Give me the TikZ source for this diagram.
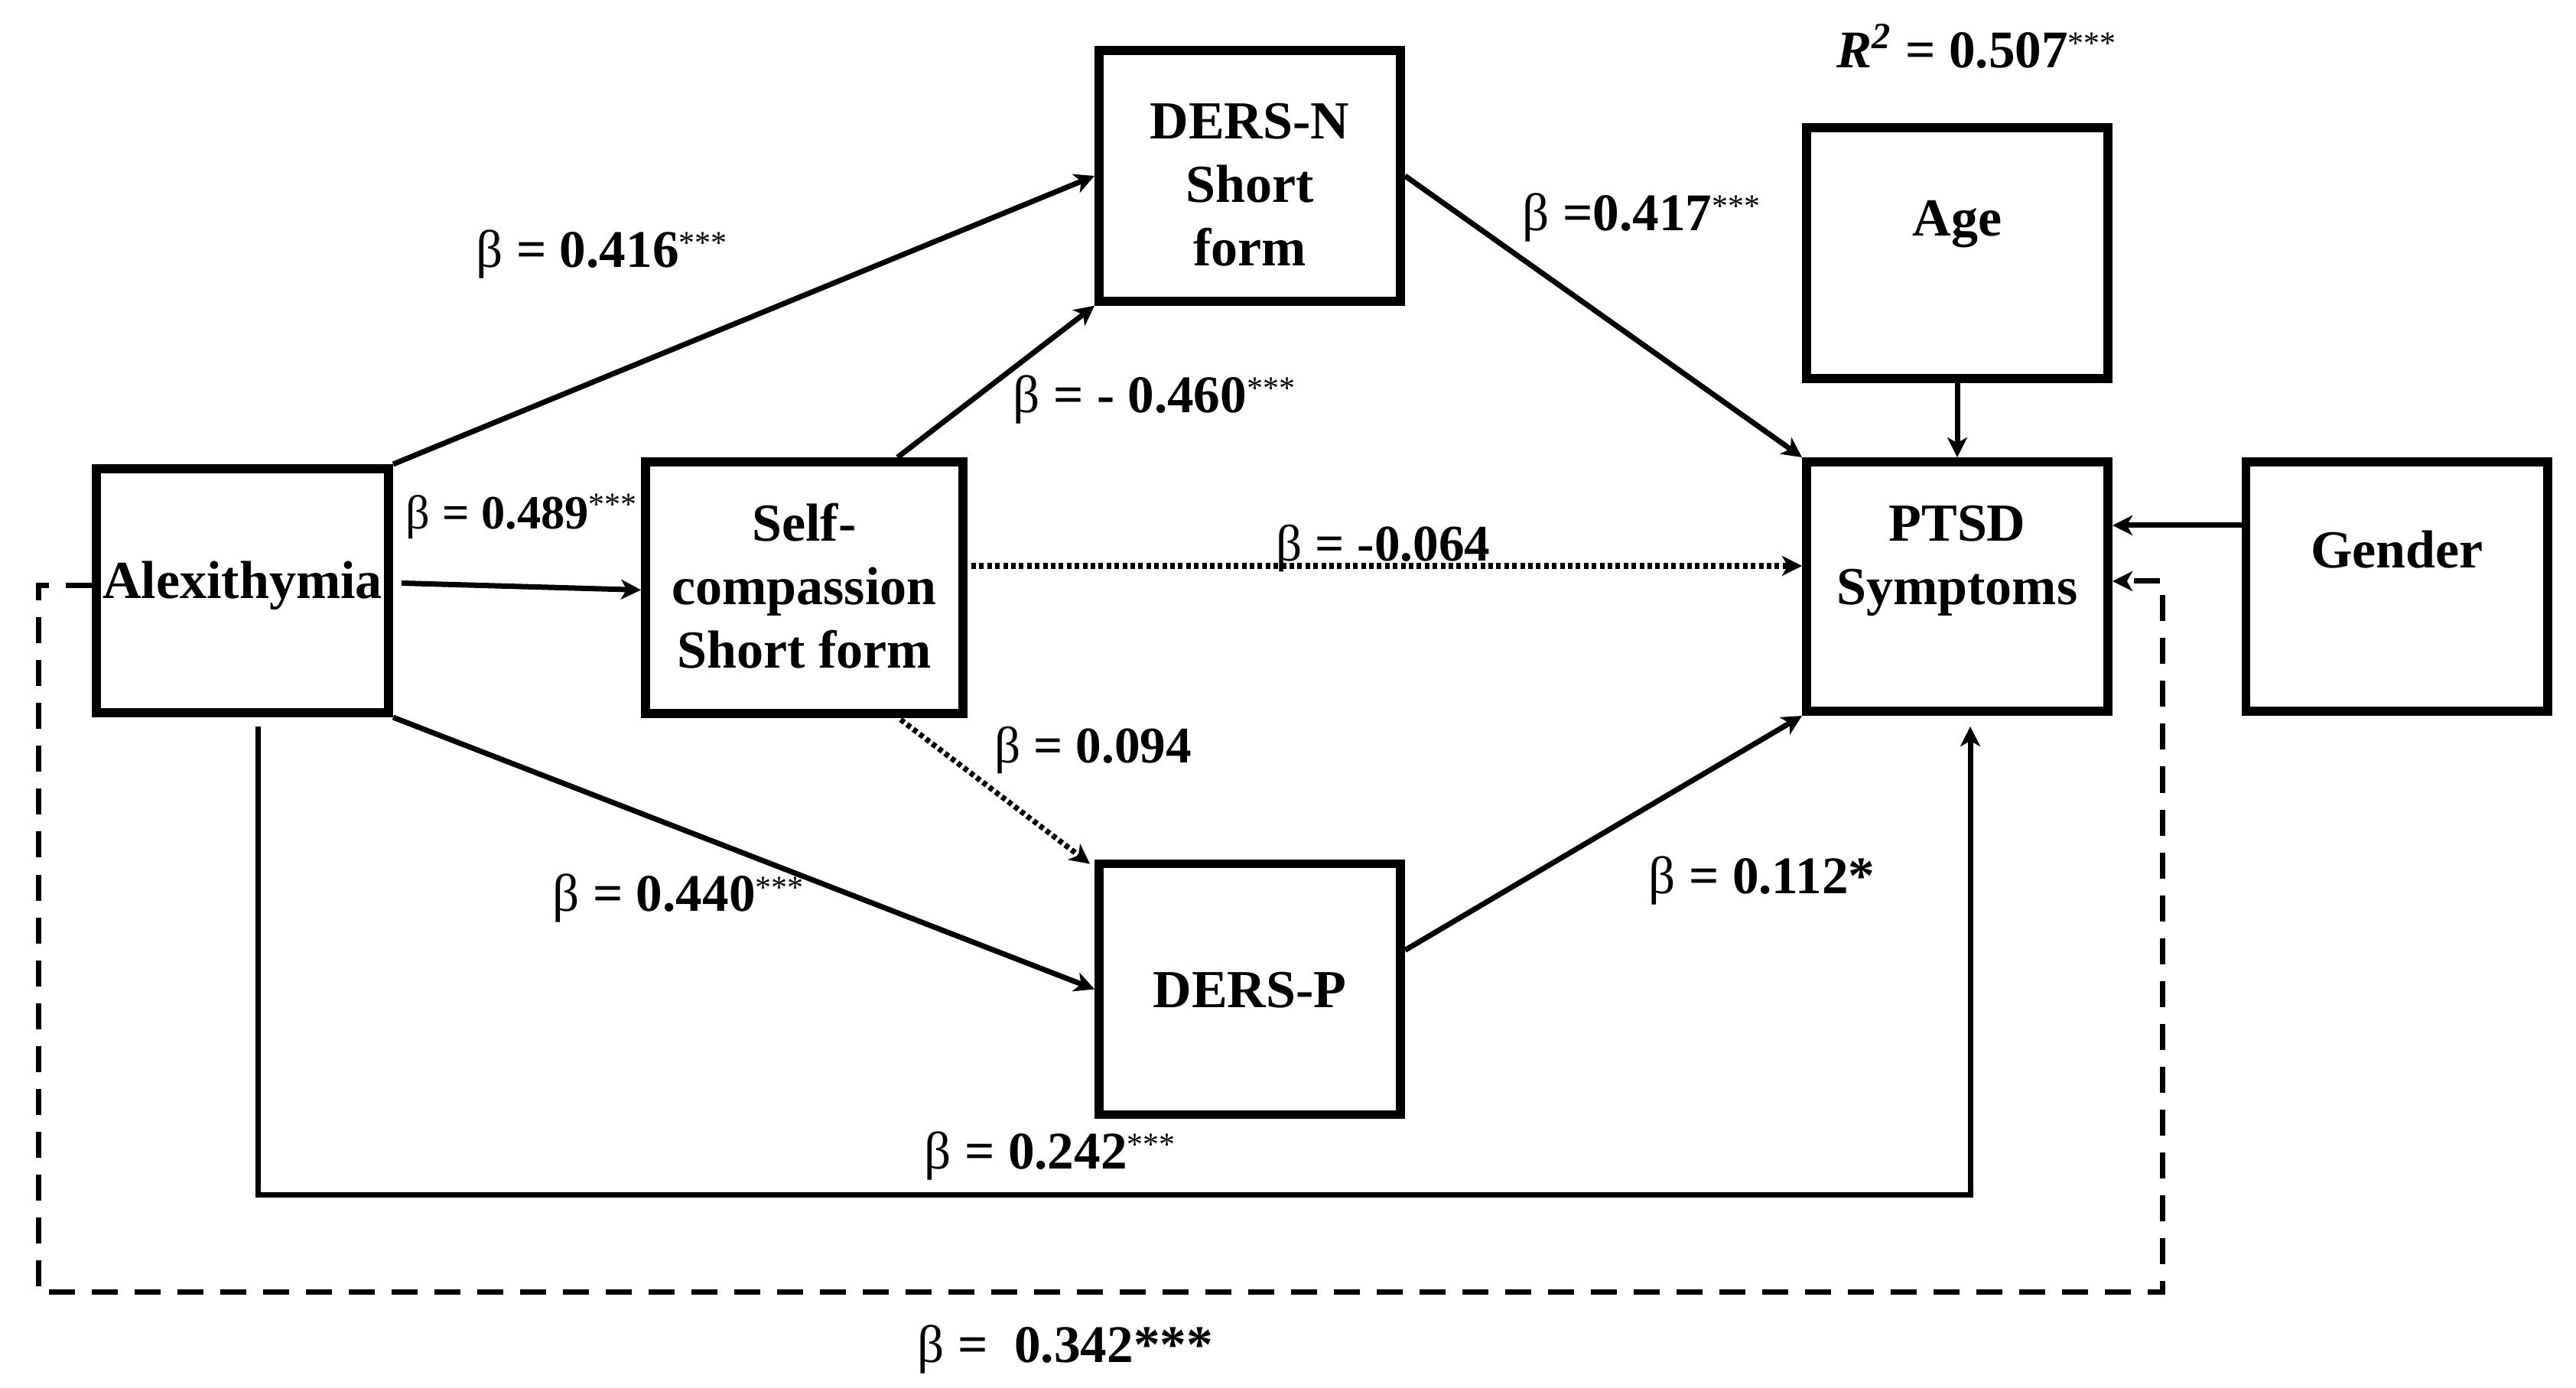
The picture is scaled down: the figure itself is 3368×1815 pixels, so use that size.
\documentclass[tikz,border=0pt]{standalone}
\usepackage{fontspec}
\setmainfont{Liberation Serif}
\usetikzlibrary{arrows.meta,calc}
\newcommand{\bet}{{\mdseries β}}
\newcommand{\sig}{\raisebox{4.5pt}{\mdseries\fontsize{10.5pt}{10.5pt}\selectfont ***}}
\begin{document}
\begin{tikzpicture}[x=0.25pt, y=-0.25pt,
  box/.style={draw, line width=2.9pt, inner sep=0pt, minimum width={394.4*0.25pt}, minimum height={328*0.25pt}},
  txt/.style={inner sep=0pt, font=\fontsize{17.5pt}{20.75pt}\selectfont\bfseries, align=center},
  lab/.style={inner sep=0pt, anchor=base west, font=\fontsize{17.3pt}{20.75pt}\selectfont\bfseries},
  arr/.style={line width=1.75pt, -{Stealth[length=6.5pt,width=6.5pt,inset=1.8pt]}},
  dotarr/.style={arr, line width=1.8pt, dash pattern=on 1.5pt off 1.1pt},
  dasharr/.style={arr, line width=1.75pt, dash pattern=on 8.5pt off 5.5pt},
]
\useasboundingbox (0,0) rectangle (3368,1815);

% boxes
\node[box, minimum width={382.4*0.25pt}, minimum height={319.4*0.25pt}] (alex) at (317,772.5) {};
\node[box, minimum width={415.4*0.25pt}, minimum height={329.4*0.25pt}] (self) at (1051.5,768.5) {};
\node[box] (dersn) at (1634,230) {};
\node[box] (dersp) at (1634,1293.5) {};
\node[box, minimum height={326.4*0.25pt}] (ptsd) at (2559,767) {};
\node[box] (age) at (2559,331) {};
\node[box, minimum height={326.4*0.25pt}] (gender) at (3133.5,767) {};

% box texts
\node[txt, anchor=base] (alexT) at (317,783) {Alexithymia};
\node[txt] (selfT) at (1051.5,766.5) {Self-\\compassion\\Short form};
\node[txt] (dersnT) at (1634,242) {DERS-N\\Short\\form};
\node[txt, anchor=base] (derspT) at (1634,1317) {DERS-P};
\node[txt] (ptsdT) at (2559,733.5) {PTSD\\Symptoms};
\node[txt, anchor=base] (ageT) at (2559,309) {Age};
\node[txt, anchor=base] (genderT) at (3134,743) {Gender};

% connectors
\draw[arr] (alex.north east) -- (dersn.west);
\draw[arr] ($(self.north)+(122,0)$) -- (dersn.south west);
\draw[arr] ($(alex.east)+(11,-10)$) -- ($(self.west)+(0,3)$);
\coordinate (s4) at ($(self.east)+(5,-28.5)$);
\draw[dotarr] (s4) -- (s4 -| ptsd.west);
\draw[dotarr] ($(self.south)+(126,2)$) -- ($(dersp.north west)+(-6,6)$);
\draw[arr] (alex.south east) -- (dersp.west);
\draw[arr] (dersn.east) -- (ptsd.north west);
\draw[arr] ($(dersp.east)+(0,-51)$) -- (ptsd.south west);
\draw[arr] (age) -- (ptsd);
\coordinate (g1) at ($(gender.west)+(0,-80)$);
\draw[arr] (g1) -- (g1 -| ptsd.east);
\coordinate (s1) at ($(alex.south)+(20,12)$);
\coordinate (e1) at ($(ptsd.south)+(17,14)$);
\draw[arr] (s1) -- ++(0,612) -| (e1);
\coordinate (d1) at ($(alex.west)+(0,-7)$);
\coordinate (d2) at ($(ptsd.east)+(65,-7)$);
\draw[dasharr] (d1) -- ++(-70,0) -- ++(0,924) -| (d2) -- (d2 -| ptsd.east);

% labels
\node[lab] (l1) at (622,350) {\bet{} = 0.416\sig};
\node[lab, font=\fontsize{15.6pt}{18pt}\selectfont\bfseries] (l2) at (530,692) {\bet{} = 0.489\sig};
\node[lab] (l3) at (1324,540) {\bet{} = - 0.460\sig};
\node[lab, font=\fontsize{16.8pt}{20pt}\selectfont\bfseries] (l4) at (1668,734) {\bet{} = -0.064};
\node[lab, font=\fontsize{16.8pt}{20pt}\selectfont\bfseries] (l5) at (1300,998) {\bet{} = 0.094};
\node[lab] (l6) at (722,1192) {\bet{} = 0.440\sig};
\node[lab] (l7) at (1990,302) {\bet{} =0.417\sig};
\node[lab] (l8) at (2155,1168) {\bet{} = 0.112*};
\node[lab] (l9) at (1208,1528) {\bet{} = 0.242\sig};
\node[lab] (l10) at (1199,1781) {\bet{} =\ \ 0.342***};
\node[lab] (r2) at (2401,89) {\textit{R}\textsuperscript{\textit{2}} = 0.507\sig};
\end{tikzpicture}
\end{document}
